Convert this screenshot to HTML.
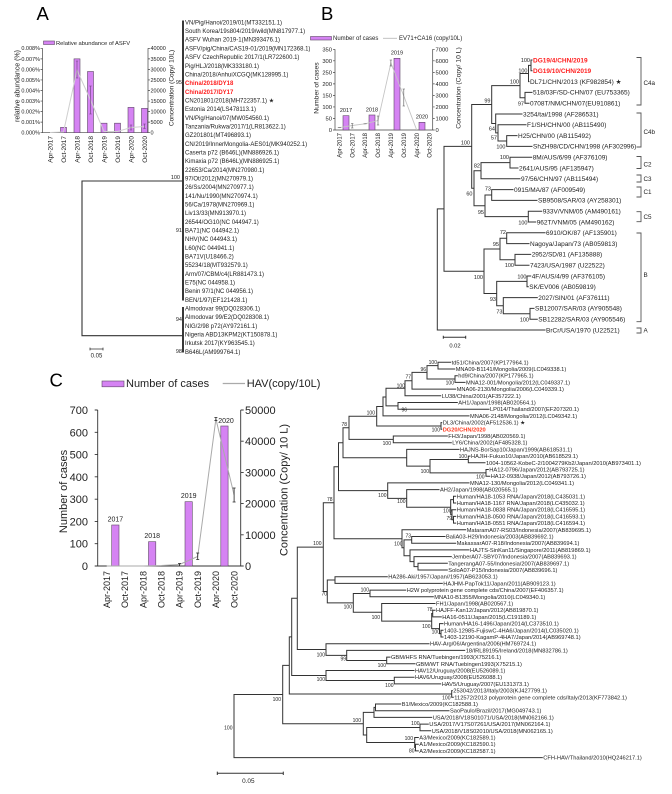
<!DOCTYPE html>
<html><head><meta charset="utf-8"><style>
html,body{margin:0;padding:0;background:#fff;}
svg{display:block;}
text{font-family:"Liberation Sans",Arial,"DejaVu Sans",sans-serif;fill:#222;}
.tr path{fill:none;stroke:#333;stroke-width:1;}
.ax{fill:none;stroke:#444;stroke-width:0.7;}
.bar{fill:#d583f3;stroke:#5e4866;stroke-width:0.6;}
.red{fill:#ff2020;font-weight:bold;}
</style></head><body>
<svg width="672" height="794" viewBox="0 0 672 794" xmlns="http://www.w3.org/2000/svg">
<rect width="672" height="794" fill="#fff"/>

<!-- ================= PANEL A ================= -->
<text x="36.5" y="20" font-size="18.5" style="fill:#000">A</text>
<rect x="43.5" y="41" width="11" height="3.5" class="bar" stroke-width="0.5"/>
<text x="56" y="45" font-size="5.8">Relative abundance of ASFV</text>

<path class="ax" d="M42.5 48.3V132.7H148V48.3 M40.5 48.3H42.5 M40.5 58.85H42.5 M40.5 69.4H42.5 M40.5 79.95H42.5 M40.5 90.5H42.5 M40.5 101.05H42.5 M40.5 111.6H42.5 M40.5 122.15H42.5 M40.5 132.7H42.5 M148 48.3H150 M148 58.85H150 M148 69.4H150 M148 79.95H150 M148 90.5H150 M148 101.05H150 M148 111.6H150 M148 122.15H150 M148 132.7H150"/>
<g font-size="5.5" text-anchor="end">
<text x="40" y="50.2">0.008%</text><text x="40" y="60.75">0.007%</text><text x="40" y="71.3">0.006%</text><text x="40" y="81.85">0.005%</text><text x="40" y="92.4">0.004%</text><text x="40" y="102.95">0.003%</text><text x="40" y="113.5">0.002%</text><text x="40" y="124.05">0.001%</text><text x="40" y="134.6">0.000%</text>
</g>
<g font-size="5.5">
<text x="150.5" y="50.2">40000</text><text x="150.5" y="60.75">35000</text><text x="150.5" y="71.3">30000</text><text x="150.5" y="81.85">25000</text><text x="150.5" y="92.4">20000</text><text x="150.5" y="102.95">15000</text><text x="150.5" y="113.5">10000</text><text x="150.5" y="124.05">5000</text><text x="150.5" y="134.6">0</text>
</g>
<rect class="bar" x="60.5" y="127.4" width="6" height="5.3"/>
<rect class="bar" x="74" y="58.85" width="6" height="73.85"/>
<rect class="bar" x="87.5" y="71.5" width="6" height="61.2"/>
<rect class="bar" x="101" y="123.2" width="6" height="9.5"/>
<rect class="bar" x="114.5" y="123.2" width="6" height="9.5"/>
<rect class="bar" x="128" y="107.4" width="6" height="25.3"/>
<rect class="bar" x="141.5" y="108.4" width="6" height="24.3"/>
<polyline points="50,132.5 63.5,132 77,70 90.5,100 104,131.5 117.5,131.5 131,127.5 144.5,126.5" fill="none" stroke="#cfcfcf" stroke-width="1"/>
<path d="M77 61V78 M75.8 61H78.2 M75.8 78H78.2 M90.5 86V114 M89.3 86H91.7 M89.3 114H91.7 M131 125V130 M129.8 125H132.2 M129.8 130H132.2 M144.5 124V128.5 M143.3 124H145.7 M143.3 128.5H145.7" stroke="#6b3f7a" stroke-width="0.6" fill="none"/>
<g font-size="6.5" text-anchor="end">
<text transform="translate(52.3,136) rotate(-90)">Apr-2017</text>
<text transform="translate(65.8,136) rotate(-90)">Oct-2017</text>
<text transform="translate(79.3,136) rotate(-90)">Apr-2018</text>
<text transform="translate(92.8,136) rotate(-90)">Oct-2018</text>
<text transform="translate(106.3,136) rotate(-90)">Apr-2019</text>
<text transform="translate(119.8,136) rotate(-90)">Oct-2019</text>
<text transform="translate(133.3,136) rotate(-90)">Apr-2020</text>
<text transform="translate(146.8,136) rotate(-90)">Oct-2020</text>
</g>
<text transform="translate(19.5,86) rotate(-90)" font-size="7" text-anchor="middle">relative abundance (%)</text>
<text transform="translate(173.3,88) rotate(-90)" font-size="6.5" text-anchor="middle">Concentration (Copy/ 10L)</text>

<!-- tree A -->
<g class="tr">
<path d="M183 20.5V300.5" style="stroke:#222;stroke-width:1.8"/>
<path d="M183 307V352.5" style="stroke:#222;stroke-width:1.8"/>
<path d="M183 181H82V335.7H183" style="stroke:#333;stroke-width:1.1"/>
<path d="M90 349H103 M90 347.6V350.4 M103 347.6V350.4" style="stroke:#333;stroke-width:0.8"/>
</g>
<g font-size="5.5" text-anchor="end">
<text x="182" y="84">95</text><text x="180" y="179">100</text><text x="182" y="232">91</text><text x="182" y="321">94</text><text x="182" y="353">98</text>
</g>
<text x="96.5" y="357.5" font-size="6" text-anchor="middle">0.05</text>
<g font-size="6">
<text x="185" y="24.4">VN/Pig/Hanoi/2019/01(MT332151.1)</text>
<text x="185" y="33.1">South  Korea/19s804/2019/wild(MN817977.1)</text>
<text x="185" y="41.7">ASFV Wuhan 2019-1(MN393476.1)</text>
<text x="185" y="50.4">ASFV/pig/China/CAS19-01/2019(MN172368.1)</text>
<text x="185" y="59.1">ASFV CzechRepublic 2017/1(LR722600.1)</text>
<text x="185" y="67.8">Pig/HLJ/2018(MK333180.1)</text>
<text x="185" y="76.4">China/2018/AnhuiXCGQ(MK128995.1)</text>
<text x="185" y="85.1" class="red">China/2018/DY18</text>
<text x="185" y="93.8" class="red">China/2017/DY17</text>
<text x="185" y="102.4">CN201801/2018(MH722357.1) ★</text>
<text x="185" y="111.1">Estonia  2014(LS478113.1)</text>
<text x="185" y="119.8">VN/Pig/Hanoi/07(MW054560.1)</text>
<text x="185" y="128.4">Tanzania/Rukwa/2017/1(LR813622.1)</text>
<text x="185" y="137.1">GZ201801(MT496893.1)</text>
<text x="185" y="145.8">CN/2019/InnerMongolia-AES01(MK940252.1)</text>
<text x="185" y="154.5">Caserta p72 (B646L)(MN886926.1)</text>
<text x="185" y="163.1">Kimaxia p72 (B646L)(MN886925.1)</text>
<text x="185" y="171.8">22653/Ca/2014(MN270980.1)</text>
<text x="185" y="180.5">97/Ot/2012(MN270979.1)</text>
<text x="185" y="189.1">26/Ss/2004(MN270977.1)</text>
<text x="185" y="197.8">141/Nu/1990(MN270974.1)</text>
<text x="185" y="206.5">56/Ca/1978(MN270969.1)</text>
<text x="185" y="215.1">Liv13/33(MN913970.1)</text>
<text x="185" y="223.8">26544/OG10(NC 044947.1)</text>
<text x="185" y="232.5">BA71(NC 044942.1)</text>
<text x="185" y="241.2">NHV(NC 044943.1)</text>
<text x="185" y="249.8">L60(NC 044941.1)</text>
<text x="185" y="258.5">BA71V(U18466.2)</text>
<text x="185" y="267.2">55234/18(MT932579.1)</text>
<text x="185" y="275.8">Arm/07/CBM/c4(LR881473.1)</text>
<text x="185" y="284.5">E75(NC 044958.1)</text>
<text x="185" y="293.2">Benin 97/1(NC 044956.1)</text>
<text x="185" y="301.8">BEN/1/97(EF121428.1)</text>
<text x="185" y="310.5">Almodovar 99(DQ028306.1)</text>
<text x="185" y="319.2">Almodovar 99/E2(DQ028308.1)</text>
<text x="185" y="327.9">NIG/2/98  p72(AY972161.1)</text>
<text x="185" y="336.5">Nigeria ABD13KPM2(KT150878.1)</text>
<text x="185" y="345.2">Irkutsk  2017(KY963545.1)</text>
<text x="185" y="353.9">B646L(AM999764.1)</text>
</g>

<!-- ================= PANEL B ================= -->
<text x="321" y="20" font-size="18.5" style="fill:#000">B</text>
<rect x="310.5" y="36.5" width="21" height="3.5" class="bar" stroke-width="0.5"/>
<text x="333" y="40.2" font-size="6">Number of cases</text>
<path d="M383 38.3H397" stroke="#bbb" stroke-width="0.9"/>
<text x="399" y="40.2" font-size="6">EV71+CA16 (copy/10L)</text>

<path class="ax" d="M335 49.3V130H432.7V49.3 M333 49.3H335 M333 60.83H335 M333 72.36H335 M333 83.89H335 M333 95.41H335 M333 106.94H335 M333 118.47H335 M333 130H335 M432.7 49.3H434.7 M432.7 60.83H434.7 M432.7 72.36H434.7 M432.7 83.89H434.7 M432.7 95.41H434.7 M432.7 106.94H434.7 M432.7 118.47H434.7 M432.7 130H434.7"/>
<g font-size="5.8" text-anchor="end">
<text x="332" y="51.3">350</text><text x="332" y="62.8">300</text><text x="332" y="74.4">250</text><text x="332" y="85.9">200</text><text x="332" y="97.4">150</text><text x="332" y="108.9">100</text><text x="332" y="120.5">50</text><text x="332" y="132">0</text>
</g>
<g font-size="5.8">
<text x="435.5" y="51.3">7000</text><text x="435.5" y="62.8">6000</text><text x="435.5" y="74.4">5000</text><text x="435.5" y="85.9">4000</text><text x="435.5" y="97.4">3000</text><text x="435.5" y="108.9">2000</text><text x="435.5" y="120.5">1000</text><text x="435.5" y="132">0</text>
</g>
<rect class="bar" x="343" y="115.7" width="6" height="14.3"/>
<rect class="bar" x="369" y="115" width="6" height="15"/>
<rect class="bar" x="394" y="58.3" width="6" height="71.7"/>
<rect class="bar" x="419" y="122.3" width="6" height="7.7"/>
<g font-size="5.5" text-anchor="middle">
<text x="346" y="112">2017</text><text x="372" y="111.5">2018</text><text x="397" y="54.5">2019</text><text x="422" y="118.5">2020</text>
</g>
<polyline points="339.3,127.7 352.2,125.5 365.1,123.8 378,120.5 390.9,63 403.8,96 416.7,130" fill="none" stroke="#c4c4c4" stroke-width="0.9"/>
<path d="M337.8 127.7H340.8 M352.2 123.5V128 M351 123.5H353.4 M351 128H353.4 M363.6 123.8H366.6 M378 116V125 M376.8 116H379.2 M376.8 125H379.2 M390.9 60V66 M389.7 60H392.1 M389.7 66H392.1 M403.8 89V106 M402.6 89H405 M402.6 106H405" stroke="#555" stroke-width="0.6" fill="none"/>
<g font-size="6" text-anchor="end">
<text transform="translate(341.4,133) rotate(-90)">Apr-2017</text>
<text transform="translate(354.3,133) rotate(-90)">Oct-2017</text>
<text transform="translate(367.2,133) rotate(-90)">Apr-2018</text>
<text transform="translate(380.1,133) rotate(-90)">Oct-2018</text>
<text transform="translate(393,133) rotate(-90)">Apr-2019</text>
<text transform="translate(405.9,133) rotate(-90)">Oct-2019</text>
<text transform="translate(418.8,133) rotate(-90)">Apr-2020</text>
<text transform="translate(431.7,133) rotate(-90)">Oct-2020</text>
</g>
<text transform="translate(318.3,88) rotate(-90)" font-size="6.8" text-anchor="middle">Number of cases</text>
<text transform="translate(460.5,88) rotate(-90)" font-size="6.8" text-anchor="middle">Concentration (Copy/ 10 L)</text>

<!-- tree B -->
<g class="tr" style="stroke-width:1.1">
<path d="M532.5 60H531V70.8H532.5"/>
<path d="M531 65.4H528.5V81.6H529.5"/>
<path d="M532.5 92.4H525V103.2H529.5"/>
<path d="M528.5 73.5H520V97.8H525"/>
<path d="M517.5 135.6H506.7V146.4H532.5"/>
<path d="M526.5 124.8H498V141H506.7"/>
<path d="M522.5 114H495.7V132.9H498"/>
<path d="M520 85.65H491.7V123.45H495.7"/>
<path d="M532.2 157.2H510V168H518.5"/>
<path d="M510 162.6H481V178.8H520.5"/>
<path d="M513.5 189.6H491.7V200.4H537.5"/>
<path d="M542.2 211.2H528.3V222H536.2"/>
<path d="M491.7 195H485V216.6H528.3"/>
<path d="M481 170.7H474V205.8H485"/>
<path d="M491.7 104.55H471.7V188.25H474"/>
<path d="M545.5 232.8H506.7V243.6H529.5"/>
<path d="M531.2 254.4H515V265.2H529.5"/>
<path d="M506.7 238.2H500V259.8H515"/>
<path d="M531.2 276H527V286.8H528.8"/>
<path d="M534.5 308.4H530V319.2H537.8"/>
<path d="M537.8 297.6H503.3V313.8H530"/>
<path d="M527 281.4H496.7V305.7H503.3"/>
<path d="M500 249H484V293.55H496.7"/>
<path d="M471.7 146.4H444V271.3H484"/>
<path d="M444 208.85H437.3V330H545.5"/>
<path d="M443.3 337.3H465.7 M443.3 335.8V338.8 M465.7 335.8V338.8"/>
</g>
<g stroke="#555" stroke-width="0.9" fill="none">
<path d="M636.5 57.5H641V105H636.5"/>
<path d="M636.5 113H641V147H636.5"/>
<path d="M636.5 156.5H641V168.5H636.5"/>
<path d="M636.5 175H641V182H636.5"/>
<path d="M636.5 187H641V197H636.5"/>
<path d="M636.5 211.7H641V221.7H636.5"/>
<path d="M636.5 233H641V321.7H636.5"/>
<path d="M636.5 328H641V333H636.5"/>
</g>
<g font-size="6.3">
<text x="643.5" y="85">C4a</text><text x="643.5" y="134">C4b</text><text x="643.5" y="166.5">C2</text><text x="643.5" y="181">C3</text><text x="643.5" y="194">C1</text><text x="643.5" y="219">C5</text><text x="643.5" y="277">B</text><text x="643.5" y="332.5">A</text>
</g>
<text x="455" y="347.5" font-size="5.8" text-anchor="middle">0.02</text>
<g font-size="5.5" text-anchor="end">
<text x="530" y="62">100</text><text x="527.5" y="72.5">100</text><text x="519" y="83.5">100</text><text x="524" y="105.5">97</text><text x="490.5" y="102.5">99</text><text x="470" y="144.5">100</text><text x="495" y="130.5">64</text><text x="497" y="139.5">57</text><text x="505.5" y="148.5">100</text><text x="509" y="159">100</text><text x="480" y="167.5">82</text><text x="472.5" y="195.5">60</text><text x="491" y="190.5">73</text><text x="484" y="214">95</text><text x="527.5" y="224.5">100</text><text x="506" y="234">72</text><text x="499" y="246">95</text><text x="514" y="267">100</text><text x="483" y="279">100</text><text x="526.5" y="278.3">100</text><text x="496" y="301">93</text><text x="502.5" y="313.5">73</text><text x="529" y="321.5">100</text>
</g>
<g font-size="6.5">
<text x="533" y="62.3" class="red">DG19/4/CHN/2019</text>
<text x="533" y="73.1" class="red">DG19/10/CHN/2019</text>
<text x="530" y="83.9">DL71/CHN/2013 (KF982854) ★</text>
<text x="533" y="94.7">518/03F/SD-CHN/07 (EU753365)</text>
<text x="530" y="105.5">0708T/NM/CHN/07(EU910861)</text>
<text x="523" y="116.3">3254/tai/1998 (AF286531)</text>
<text x="527" y="127.1">F1/SH/CHN/00 (AB115490)</text>
<text x="518" y="137.9">H25/CHN/00 (AB115492)</text>
<text x="533" y="148.7">ShZH98/CD/CHN/1998 (AF302996)</text>
<text x="532.7" y="159.5">8M/AUS/6/99 (AF376109)</text>
<text x="519" y="170.3">2641/AUS/95 (AF135947)</text>
<text x="521" y="181.1">97/56/CHN/97 (AB115494)</text>
<text x="514" y="191.9">0915/MA/87 (AF009549)</text>
<text x="538" y="202.7">SB9508/SAR/03 (AY258301)</text>
<text x="542.7" y="213.5">933V/VNM/05 (AM490161)</text>
<text x="536.7" y="224.3">962T/VNM/05 (AM490162)</text>
<text x="546" y="235.1">6910/OK/87 (AF135901)</text>
<text x="530" y="245.9">Nagoya/Japan/73 (AB059813)</text>
<text x="531.7" y="256.7">2952/SD/81 (AF135888)</text>
<text x="530" y="267.5">7423/USA/1987 (U22522)</text>
<text x="531.7" y="278.3">4F/AUS/4/99 (AF376105)</text>
<text x="529.3" y="289.1">SK/EV006 (AB059819)</text>
<text x="538.3" y="299.9">2027/SIN/01 (AF376111)</text>
<text x="535" y="310.7">SB12007/SAR/03 (AY905548)</text>
<text x="538.3" y="321.5">SB12282/SAR/03 (AY905546)</text>
<text x="546" y="332.3">BrCr/USA/1970 (U22521)</text>
</g>

<!-- ================= PANEL C ================= -->
<text x="49.5" y="386.7" font-size="18.5" style="fill:#000">C</text>
<rect x="102" y="381" width="22" height="5.8" class="bar" stroke="#333" stroke-width="0.8"/>
<text x="126" y="387" font-size="11">Number of cases</text>
<path d="M222.7 383.5H245" stroke="#aaa" stroke-width="1.2"/>
<text x="246.7" y="387" font-size="11">HAV(copy/10L)</text>

<path class="ax" style="stroke:#333;stroke-width:0.9" d="M97.7 410V566H240.7V410 M94.7 410H97.7 M94.7 432.29H97.7 M94.7 454.57H97.7 M94.7 476.86H97.7 M94.7 499.14H97.7 M94.7 521.43H97.7 M94.7 543.71H97.7 M94.7 566H97.7 M240.7 410H243.7 M240.7 441.2H243.7 M240.7 472.4H243.7 M240.7 503.6H243.7 M240.7 534.8H243.7 M240.7 566H243.7"/>
<g font-size="11" text-anchor="end">
<text x="88" y="414">700</text><text x="88" y="436.3">600</text><text x="88" y="458.6">500</text><text x="88" y="480.9">400</text><text x="88" y="503.1">300</text><text x="88" y="525.4">200</text><text x="88" y="547.7">100</text><text x="88" y="570">0</text>
</g>
<g font-size="11">
<text x="245" y="414">50000</text><text x="245" y="445.2">40000</text><text x="245" y="476.4">30000</text><text x="245" y="507.6">20000</text><text x="245" y="538.8">10000</text><text x="245" y="570">0</text>
</g>
<rect class="bar" x="111.7" y="525" width="7.3" height="41" stroke="#444" stroke-width="0.8"/>
<rect class="bar" x="148.5" y="541.7" width="7.3" height="24.3" stroke="#444" stroke-width="0.8"/>
<rect class="bar" x="185" y="501.7" width="7.3" height="64.3" stroke="#444" stroke-width="0.8"/>
<rect class="bar" x="220.8" y="426" width="7.3" height="140" stroke="#444" stroke-width="0.8"/>
<g font-size="7" text-anchor="middle">
<text x="115.4" y="521.5">2017</text><text x="152.2" y="538">2018</text><text x="188.7" y="498">2019</text><text x="226" y="423">2020</text>
</g>
<polyline points="106.7,566 124.9,566 143.1,566 161.3,565.5 179.5,564.5 197.7,556.5 215.9,419 234.1,495" fill="none" stroke="#aaa" stroke-width="1"/>
<path d="M179.5 563.5V566 M178 563.5H181 M197.7 553V559.5 M196.2 553H199.2 M196.2 559.5H199.2 M215.9 417.5V420.5 M214.4 417.5H217.4 M214.4 420.5H217.4 M234.1 488V502 M232.6 488H235.6 M232.6 502H235.6" stroke="#222" stroke-width="0.8" fill="none"/>
<g font-size="9" text-anchor="end">
<text transform="translate(109.9,571) rotate(-90)">Apr-2017</text>
<text transform="translate(128.1,571) rotate(-90)">Oct-2017</text>
<text transform="translate(146.3,571) rotate(-90)">Apr-2018</text>
<text transform="translate(164.5,571) rotate(-90)">Oct-2018</text>
<text transform="translate(182.7,571) rotate(-90)">Apr-2019</text>
<text transform="translate(200.9,571) rotate(-90)">Oct-2019</text>
<text transform="translate(219.1,571) rotate(-90)">Apr-2020</text>
<text transform="translate(237.3,571) rotate(-90)">Oct-2020</text>
</g>
<text transform="translate(67,491.5) rotate(-90)" font-size="11" text-anchor="middle">Number of cases</text>
<text transform="translate(287.3,490) rotate(-90)" font-size="11" text-anchor="middle">Concentration (Copy/ 10 L)</text>

<!-- tree C -->
<g class="tr" style="stroke-width:0.9">
<path d="M451.2 362.3H438V369H455.2"/>
<path d="M457.8 375.7H455V382.4H465.5"/>
<path d="M438 365.65H427V379.05H455"/>
<path d="M427 372.35H412V389.1H456.2"/>
<path d="M412 380.7H405V395.8H441.2"/>
<path d="M457.8 402.5H398V409.2H489.5"/>
<path d="M405 388.25H386V405.85H398"/>
<path d="M386 397.05H383V415.9H469.5"/>
<path d="M442.2 422.6H441V429.3H442.2"/>
<path d="M383 406.5H376.7V425.95H441"/>
<path d="M447.8 436H393.3V442.7H451.8"/>
<path d="M376.7 416.2H349V439.35H393.3"/>
<path d="M470.5 456.1H468.3V462.8H485.5"/>
<path d="M488.8 469.5H486V476.2H490.2"/>
<path d="M468.3 459.45H430V472.85H486"/>
<path d="M459.5 449.4H406.7V466.15H430"/>
<path d="M349 427.8H343V457.8H406.7"/>
<path d="M456.2 496.3H453.5V503H456.2"/>
<path d="M456.2 516.4H453.5V523.1H456.2"/>
<path d="M456.2 509.7H452V519.75H453.5"/>
<path d="M453.5 499.65H450.7V514.7H452"/>
<path d="M439.5 489.6H406.7V507.2H450.7"/>
<path d="M469.5 482.9H387.7V498.4H406.7"/>
<path d="M343 442.8H338.5V490.65H387.7"/>
<path d="M445.5 536.5H411.7V543.2H456.2"/>
<path d="M447.8 563.3H418V570H447.8"/>
<path d="M451.8 556.6H414V566.65H418"/>
<path d="M469.5 549.9H410V561.6H414"/>
<path d="M411.7 539.85H404V555.75H410"/>
<path d="M466.2 529.8H402V547.8H404"/>
<path d="M338.5 466.7H334V538.8H402"/>
<path d="M387.8 576.7H335V583.4H442.8"/>
<path d="M406.2 590.1H370V596.8H433.8"/>
<path d="M435.5 610.2H432.7V616.9H441.8"/>
<path d="M443.5 630.3H441V637H443.5"/>
<path d="M443.5 623.6H439.5V633.65H441"/>
<path d="M432.7 613.55H431.7V628.6H439.5"/>
<path d="M435.5 603.5H381.7V621.1H431.7"/>
<path d="M370 593.45H353.3V612.3H381.7"/>
<path d="M335 580.05H327.3V602.9H353.3"/>
<path d="M334 502.75H323.3V591.5H327.3"/>
<path d="M390.5 657.1H386.7V663.8H415.5"/>
<path d="M465.2 650.4H346.7V660.45H386.7"/>
<path d="M429.5 643.7H326V655.4H346.7"/>
<path d="M323.3 547.1H297.3V649.55H326"/>
<path d="M414.5 677.2H394.3V683.9H441.2"/>
<path d="M414.5 670.5H326V680.55H394.3"/>
<path d="M297.3 598.3H291.7V675.5H326"/>
<path d="M452.8 690.6H451.7V697.3H453.8"/>
<path d="M291.7 636.9H289.3V693.95H451.7"/>
<path d="M401.2 704H375.5V710.7H449.5"/>
<path d="M375.5 707.35H374V717.4H432.2"/>
<path d="M428.8 724.1H420V730.8H431.2"/>
<path d="M418.8 744.2H415.5V750.9H418.8"/>
<path d="M418.8 737.5H414.7V747.55H415.5"/>
<path d="M420 727.45H366.7V742.5H414.7"/>
<path d="M374 712.4H363.3V735H366.7"/>
<path d="M289.3 665.4H282.7V723.7H363.3"/>
<path d="M282.7 694.55H234V757.6H542.8"/>
<path d="M217.3 773.3H283.3 M217.3 771.6V775 M283.3 771.6V775"/>
</g>
<text x="248.3" y="783" font-size="6.4" text-anchor="middle">0.05</text>
<g font-size="5" text-anchor="end">
<text x="437" y="364">100</text><text x="454" y="384.5">100</text><text x="426" y="371">96</text><text x="411" y="378.5">77</text><text x="405" y="387.5">100</text><text x="407" y="411.5">96</text><text x="375" y="414.5">100</text><text x="347" y="426">78</text><text x="440" y="431.5">100</text><text x="391" y="445">100</text><text x="467" y="458">100</text><text x="429" y="473">100</text><text x="484.5" y="478.5">100</text><text x="386.5" y="497">100</text><text x="405.5" y="503">100</text><text x="451.5" y="512.5">100</text><text x="452" y="520">79</text><text x="332.5" y="501">78</text><text x="411" y="537.5">73</text><text x="402.5" y="545.5">100</text><text x="321.5" y="545">100</text><text x="369" y="591.5">100</text><text x="327" y="595.5">70</text><text x="352" y="608.5">100</text><text x="380" y="619">100</text><text x="432.5" y="611">78</text><text x="430.5" y="628">100</text><text x="440" y="633.5">100</text><text x="325" y="656.5">100</text><text x="346" y="660.5">99</text><text x="386" y="667">100</text><text x="325" y="681">100</text><text x="393.5" y="687">100</text><text x="450.5" y="699.5">100</text><text x="281" y="701">100</text><text x="361" y="722">100</text><text x="419.5" y="725">100</text><text x="413" y="740">100</text><text x="414.5" y="752.5">80</text><text x="232.5" y="729.5">100</text>
</g>
<g font-size="5.7">
<text x="451.7" y="364.3">td51/China/2007(KP177964.1)</text>
<text x="455.7" y="371">MNA09-B1141/Mongolia/2009(LC049338.1)</text>
<text x="458.3" y="377.7">hd9/China/2007(KP177965.1)</text>
<text x="466" y="384.4">MNA12-001/Mongolia/2012(LC049337.1)</text>
<text x="456.7" y="391.1">MNA06-2130/Mongolia/2006(LC049339.1)</text>
<text x="441.7" y="397.8">LU38/China/2001(AF357222.1)</text>
<text x="458.3" y="404.5">AH1/Japan/1998(AB020564.1)</text>
<text x="490" y="411.2">LP014/Thailand/2007(EF207320.1)</text>
<text x="470" y="417.9">MNA06-2148/Mongolia/2012(LC049342.1)</text>
<text x="442.7" y="424.6">DL3/China/2002(AF512536.1) ★</text>
<text x="442.7" y="431.3" class="red" style="fill:#ff3a1f">DG20/CHN/2020</text>
<text x="448.3" y="438">FH3/Japan/1998(AB020569.1)</text>
<text x="452.3" y="444.7">LY6/China/2002(AF485328.1)</text>
<text x="460" y="451.4">HAJNS-BorSap10/Japan/1999(AB618531.1)</text>
<text x="471" y="458.1">HAJIH-Fukuo10/Japan/2010(AB618529.1)</text>
<text x="486" y="464.8">1004-10562-KobeC-2/1004279Kb2/Japan/2010(AB973401.1)</text>
<text x="489.3" y="471.5">HA12-0796/Japan/2012(AB793725.1)</text>
<text x="490.7" y="478.2">HA12-0938/Japan/2012(AB793726.1)</text>
<text x="470" y="484.9">MNA12-130/Mongolia/2012(LC049341.1)</text>
<text x="440" y="491.6">AH2/Japan/1998(AB020565.1)</text>
<text x="456.7" y="498.3">Human/HA18-1053 RNA/Japan/2018(LC435031.1)</text>
<text x="456.7" y="505">Human/HA18-1167 RNA/Japan/2018(LC435032.1)</text>
<text x="456.7" y="511.7">Human/HA18-0838 RNA/Japan/2018(LC416595.1)</text>
<text x="456.7" y="518.4">Human/HA18-0500 RNA/Japan/2018(LC416593.1)</text>
<text x="456.7" y="525.1">Human/HA18-0551 RNA/Japan/2018(LC416594.1)</text>
<text x="466.7" y="531.8">MataramA07-RS03/Indonesia/2007(AB839695.1)</text>
<text x="446" y="538.5">BaliA03-H29/Indonesia/2003(AB839692.1)</text>
<text x="456.7" y="545.2">MakassarA07-R18/Indonesia/2007(AB839694.1)</text>
<text x="470" y="551.9">HAJTS-SinKan11/Singapore/2011(AB819869.1)</text>
<text x="452.3" y="558.6">JemberA07-SBY07/Indonesia/2007(AB839693.1)</text>
<text x="448.3" y="565.3">TangerangA07-55/Indonesia/2007(AB839697.1)</text>
<text x="448.3" y="572">SoloA07-P15/Indonesia/2007(AB839696.1)</text>
<text x="388.3" y="578.7">HA286-Aki/1957/Japan//1957(AB623053.1)</text>
<text x="443.3" y="585.4">HAJHM-PapTok11/Japan/2011(AB909123.1)</text>
<text x="406.7" y="592.1">H2W polyprotein gene complete cds/China/2007(EF406357.1)</text>
<text x="434.3" y="598.8">MNA10-B1355/Mongolia/2010(LC049340.1)</text>
<text x="436" y="605.5">FH1/Japan/1998(AB020567.1)</text>
<text x="436" y="612.2">HAJFF-Kan12/Japan/2012(AB819870.1)</text>
<text x="442.3" y="618.9">HA16-0511/Japan/2015(LC191189.1)</text>
<text x="444" y="625.6">Human/HA16-1496/Japan/2014(LC373510.1)</text>
<text x="444" y="632.3">1403-12985-FujiswC-4HA6/Japan/2014(LC035020.1)</text>
<text x="444" y="639">1403-12190-KagamP-4HA7/Japan/2014(AB969748.1)</text>
<text x="430" y="645.7">HAV-Arg/06/Argentina/2006(HM769724.1)</text>
<text x="465.7" y="652.4">18/IRL89195/Ireland/2018(MN832786.1)</text>
<text x="391" y="659.1">GBM/HFS RNA/Tuebingen/1993(X75216.1)</text>
<text x="416" y="665.8">GBM/WT RNA/Tuebingen1993(X75215.1)</text>
<text x="415" y="672.5">HAV12/Uruguay/2008(EU526089.1)</text>
<text x="415" y="679.2">HAV6/Uruguay/2008(EU526088.1)</text>
<text x="441.7" y="685.9">HAV5/Uruguay/2007(EU131373.1)</text>
<text x="453.3" y="692.6">253042/2013/Italy/2003(KJ427799.1)</text>
<text x="454.3" y="699.3">112572/2013 polyprotein gene complete cds/Italy/2013(KF773842.1)</text>
<text x="401.7" y="706">B1/Mexico/2009(KC182588.1)</text>
<text x="450" y="712.7">SaoPaulo/Brazil/2017(MG049743.1)</text>
<text x="432.7" y="719.4">USA/2018/V18S01071/USA/2018(MN062166.1)</text>
<text x="429.3" y="726.1">USA/2017/V17S07261/USA/2017(MN062164.1)</text>
<text x="431.7" y="732.8">USA/2018/V18S02010/USA/2018(MN062165.1)</text>
<text x="419.3" y="739.5">A3/Mexico/2009(KC182589.1)</text>
<text x="419.3" y="746.2">A1/Mexico/2009(KC182590.1)</text>
<text x="419.3" y="752.9">A2/Mexico/2009(KC182587.1)</text>
<text x="543.3" y="759.6">CFH-HAV/Thailand/2010(HQ246217.1)</text>
</g>
</svg>
</body></html>
